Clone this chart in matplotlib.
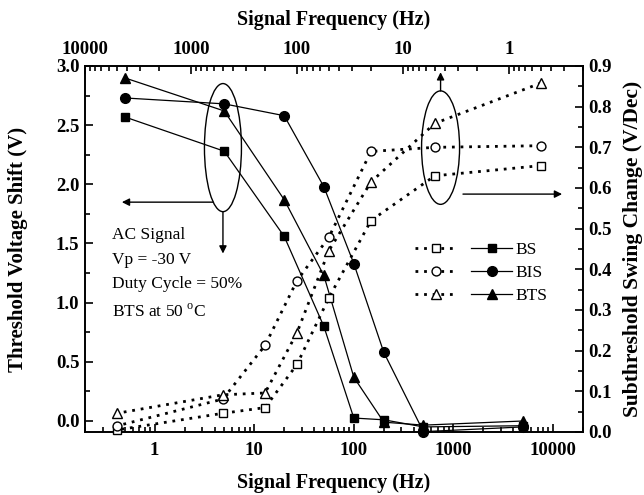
import matplotlib
matplotlib.use('Agg')
import matplotlib.pyplot as plt
from matplotlib.patches import Ellipse
from matplotlib.legend_handler import HandlerTuple
from matplotlib.ticker import (LogLocator, NullFormatter, FuncFormatter,
                               MultipleLocator, FormatStrFormatter, FixedLocator)

plt.rcParams['font.family'] = ['Liberation Serif', 'DejaVu Serif']
plt.rcParams['font.weight'] = 'bold'
plt.rcParams['axes.labelweight'] = 'bold'
plt.rcParams['mathtext.fontset'] = 'custom'
plt.rcParams['mathtext.rm'] = 'Liberation Serif:weight=normal'

# AC signal frequencies (Hz)
freq = [0.5, 5, 20, 50, 100, 200, 500, 5000]

# threshold voltage shift (V) -> bottom / left axes, filled markers
bs_vth = [2.57, 2.28, 1.56, 0.80, 0.025, 0.01, -0.05, -0.04]
bis_vth = [2.73, 2.68, 2.58, 1.98, 1.33, 0.58, -0.09, -0.05]
bts_vth = [2.90, 2.62, 1.87, 1.23, 0.37, -0.01, -0.035, 0.0]

# subthreshold swing change (V/Dec) -> top / right axes, open markers
bs_ss = [0.655, 0.63, 0.52, 0.33, 0.166, 0.06, 0.046, 0.005]
bis_ss = [0.704, 0.70, 0.69, 0.479, 0.372, 0.213, 0.081, 0.015]
bts_ss = [0.858, 0.759, 0.615, 0.446, 0.244, 0.096, 0.0915, 0.046]

names = ['BS', 'BIS', 'BTS']
markers = ['s', 'o', '^']
sizes = [6.3, 7, 7.5]

decades = [1, 10, 100, 1000, 10000]

fig = plt.figure(figsize=(6.44, 4.95), dpi=100)
rect = [85 / 644, 1 - 432 / 495, 498 / 644, 366 / 495]
ax = fig.add_axes(rect)
ax2 = fig.add_axes(rect, frameon=False)

handles = []
for name, mk, ms, vth, ss in zip(names, markers, sizes,
                                 [bs_vth, bis_vth, bts_vth],
                                 [bs_ss, bis_ss, bts_ss]):
    hf, = ax.plot(freq, vth, color='k', lw=0.9, marker=mk, ms=ms,
                  mfc='k', mec='k', clip_on=False)
    ho, = ax2.plot(freq, ss, color='k', lw=2.0, ls=(0, (1, 2.1)),
                   dash_capstyle='butt', marker=mk, ms=ms - 0.6,
                   mfc='white', mec='k', mew=1.0, clip_on=False)
    handles.append((ho, hf))

fmt = FuncFormatter(lambda v, p: '%g' % v)

# bottom / left
ax.set_xscale('log')
ax.set_xlim(0.2, 20000)
ax.set_ylim(-0.093, 3.0)
ax.xaxis.set_major_locator(FixedLocator(decades))
ax.xaxis.set_major_formatter(fmt)
ax.xaxis.set_minor_locator(LogLocator(base=10, subs=range(2, 10), numticks=20))
ax.xaxis.set_minor_formatter(NullFormatter())
ax.yaxis.set_major_locator(MultipleLocator(0.5))
ax.yaxis.set_minor_locator(MultipleLocator(0.25))
ax.yaxis.set_major_formatter(FormatStrFormatter('%.1f'))
ax.tick_params(which='both', direction='in', top=False, right=False,
               labelsize=13.5, width=1.2)
ax.tick_params(axis='x', pad=7)
ax.tick_params(axis='y', pad=4)
ax.tick_params(which='major', length=6)
ax.tick_params(which='minor', length=3.5)
for s in ax.spines.values():
    s.set_linewidth(1.4)

# top / right
ax2.set_xscale('log')
ax2.set_xlim(10000, 0.2)
ax2.set_ylim(0, 0.9)
ax2.xaxis.set_major_locator(FixedLocator(decades))
ax2.xaxis.set_major_formatter(fmt)
ax2.xaxis.set_minor_locator(LogLocator(base=10, subs=range(2, 10), numticks=20))
ax2.xaxis.set_minor_formatter(NullFormatter())
ax2.yaxis.set_major_locator(MultipleLocator(0.1))
ax2.yaxis.set_minor_locator(MultipleLocator(0.05))
ax2.yaxis.set_major_formatter(FormatStrFormatter('%.1f'))
ax2.xaxis.set_ticks_position('top')
ax2.xaxis.set_label_position('top')
ax2.yaxis.set_ticks_position('right')
ax2.yaxis.set_label_position('right')
ax2.tick_params(which='both', direction='in', labelsize=13.5, width=1.2)
ax2.tick_params(axis='x', pad=5.5)
ax2.tick_params(axis='y', pad=4)
ax2.tick_params(which='major', length=6)
ax2.tick_params(which='minor', length=3.5)
ax2.patch.set_visible(False)

ax.set_xlabel('Signal Frequency (Hz)', labelpad=10, fontsize=14.5, fontweight='bold')
ax.set_ylabel('Threshold Voltage Shift (V)', labelpad=20, fontsize=15, fontweight='bold')
ax2.set_xlabel('Signal Frequency (Hz)', labelpad=12, fontsize=14.5, fontweight='bold')
ax2.set_ylabel('Subthreshold Swing Change (V/Dec)', labelpad=8, fontsize=15.5,
               fontweight='bold')

# annotations
T = ax2.transAxes
arrow = dict(arrowstyle='-|>', color='k', lw=1.0, shrinkA=0, shrinkB=0,
             mutation_scale=11)
ax2.add_patch(Ellipse((0.277, 0.777), 0.0743, 0.35, transform=T,
                      fill=False, ec='k', lw=1.0))
ax2.annotate('', xy=(0.074, 0.628), xytext=(0.257, 0.628),
             xycoords='axes fraction', arrowprops=arrow)
ax2.annotate('', xy=(0.277, 0.4876), xytext=(0.277, 0.602),
             xycoords='axes fraction', arrowprops=arrow)
ax2.add_patch(Ellipse((0.714, 0.777), 0.0763, 0.31, transform=T,
                      fill=False, ec='k', lw=1.0))
ax2.annotate('', xy=(0.714, 0.983), xytext=(0.714, 0.932),
             xycoords='axes fraction', arrowprops=arrow)
ax2.annotate('', xy=(0.958, 0.650), xytext=(0.759, 0.650),
             xycoords='axes fraction', arrowprops=arrow)

notes = ['AC Signal', 'Vp = -30 V', 'Duty Cycle = 50%', r'BTS at 50 $^{\rm o}$C']
for txt, yy in zip(notes, [0.537, 0.471, 0.405, 0.328]):
    ax2.text(0.0535, yy, txt, transform=T, fontsize=12.5,
             fontweight='normal', va='center', ha='left')

ax2.legend(handles, names, handler_map={tuple: HandlerTuple(ndivide=None, pad=0.85)},
           loc='center left', bbox_to_anchor=(0.663, 0.435), frameon=False,
           borderpad=0, borderaxespad=0, numpoints=1, handlelength=5.6,
           handletextpad=0.2, labelspacing=0.4,
           prop={'size': 12.5, 'weight': 'normal'})

fig.savefig('out.png', dpi=100)
